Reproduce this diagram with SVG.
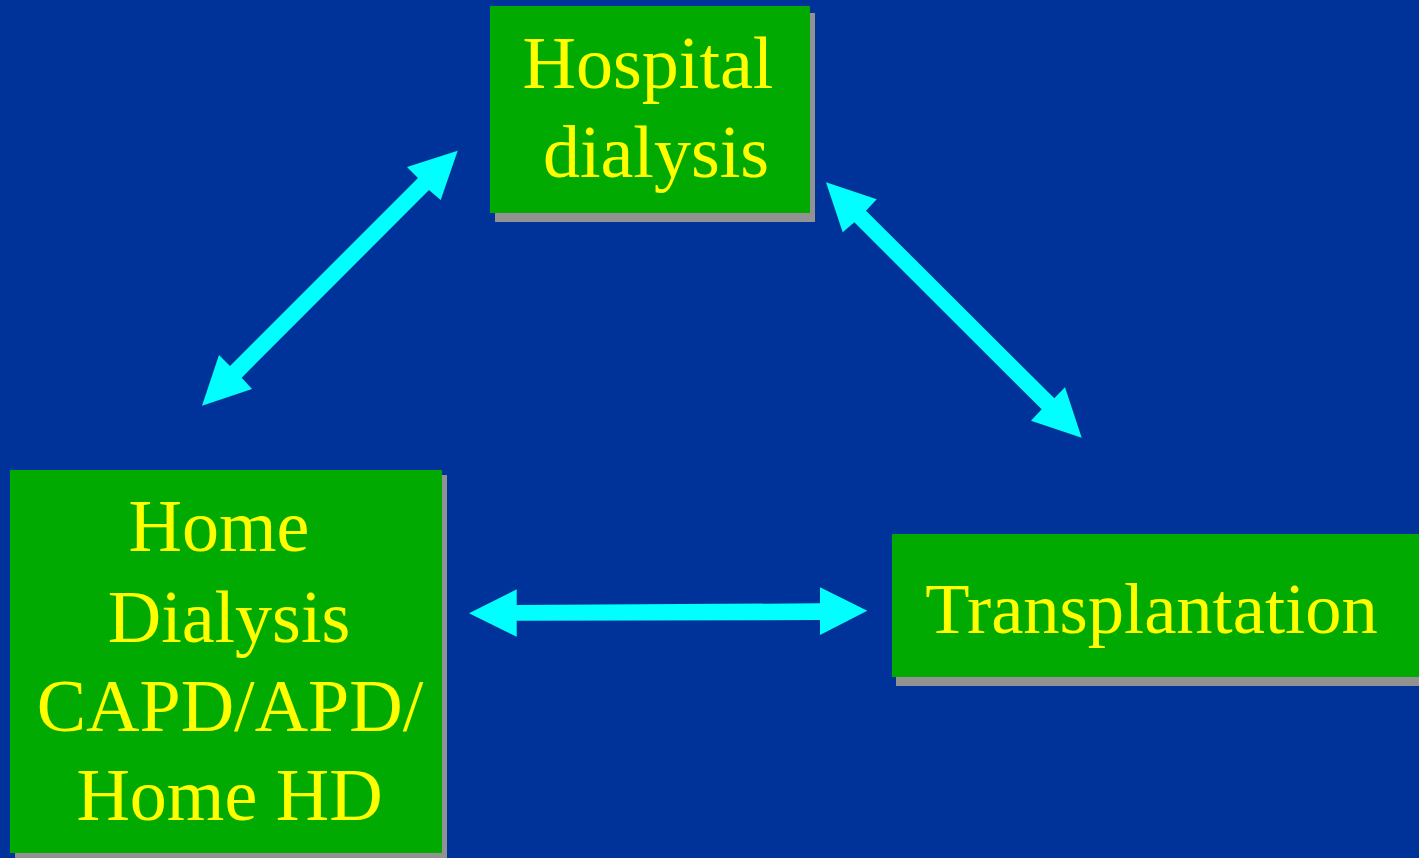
<svg xmlns="http://www.w3.org/2000/svg" width="1419" height="858" viewBox="0 0 1419 858">
<style>
.box{fill:#00AA00}
.shadow{fill:#929292}
.lbl{font-family:"Liberation Serif","Times New Roman",serif;font-size:74px;fill:#FFFF00;text-anchor:middle}
.arrow{fill:#00FFFF}
</style>
<rect x="0" y="0" width="1419" height="858" fill="#003399"/>
<g id="connectors">
<polygon class="arrow" points="457.7,150.7 440.7,200 429,190 241.7,377.7 252,389 202,405.7 219,355 230,366 418,178 407,167"/>
<polygon class="arrow" points="826,182.3 876.7,199.3 866,210.7 1054.3,398.3 1065,387.3 1081.7,437.7 1031,420.7 1041.7,409.3 854.3,222.3 842.7,232.3"/>
<polygon class="arrow" points="469,613.3 516.7,589.3 516.7,605 820,603.3 820,587.3 867.3,610.7 820,635 820,620 516.7,620.7 516.7,636.7"/>
</g>
<g id="hospital">
<rect class="shadow" x="495" y="13" width="320" height="209"/>
<rect class="box" x="490" y="6" width="320" height="207"/>
<text class="lbl" x="648" y="88">Hospital</text>
<text class="lbl" x="656" y="177">dialysis</text>
</g>
<g id="home">
<rect class="shadow" x="15" y="475" width="432" height="383"/>
<rect class="box" x="10" y="470" width="432" height="383"/>
<text class="lbl" x="219" y="551">Home</text>
<text class="lbl" x="229" y="642">Dialysis</text>
<text class="lbl" x="230" y="731">CAPD/APD/</text>
<text class="lbl" x="229.5" y="820">Home HD</text>
</g>
<g id="transplantation">
<rect class="shadow" x="896" y="541" width="530" height="145"/>
<rect class="box" x="892" y="534" width="530" height="143"/>
<text class="lbl" x="1151.5" y="633" style="font-size:72.5px">Transplantation</text>
</g>
</svg>
